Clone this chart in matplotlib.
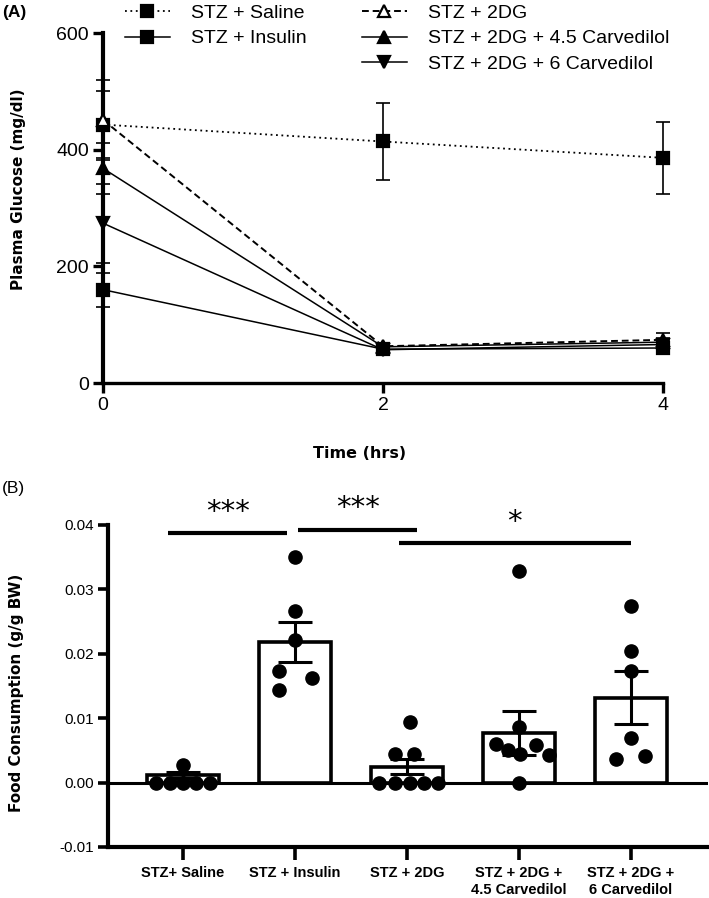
import matplotlib.pyplot as plt
import numpy as np

# ---- panel A: plasma glucose over time ----
hours = [0, 2, 4]
series_names = ["STZ + Saline", "STZ + Insulin", "STZ + 2DG",
                "STZ + 2DG + 4.5 Carvedilol", "STZ + 2DG + 6 Carvedilol"]
glucose_saline = [443, 414, 386]
glucose_insulin = [160, 58, 60]
glucose_2dg = [451, 63, 74]
glucose_carv45 = [368, 62, 70]
glucose_carv6 = [274, 57, 66]
err_saline = [58, 66, 62]
err_insulin = [29, 5, 6]
err_2dg = [69, 6, 12]
err_carv45 = [44, 6, 8]
err_carv6 = [68, 5, 8]

# ---- panel B: food consumption ----
groups = ["STZ+ Saline", "STZ + Insulin", "STZ + 2DG",
          "STZ + 2DG +\n4.5 Carvedilol", "STZ + 2DG +\n6 Carvedilol"]
food_mean = [0.0012, 0.0219, 0.0025, 0.0077, 0.0132]
food_sem = [0.0005, 0.0031, 0.0011, 0.0034, 0.0041]
food_saline = [0.0028, 0.0, 0.0, 0.0, 0.0, 0.0]
food_insulin = [0.0350, 0.0266, 0.0222, 0.0174, 0.0144, 0.0162]
food_2dg = [0.0094, 0.0045, 0.0045, 0.0, 0.0, 0.0, 0.0, 0.0]
food_carv45 = [0.0329, 0.0087, 0.0060, 0.0050, 0.0045, 0.0058, 0.0043, 0.0]
food_carv6 = [0.0275, 0.0204, 0.0173, 0.0070, 0.0037, 0.0042]
sig_labels = ["***", "***", "*"]
sig_starts = [-0.13, 1.03, 1.93]
sig_ends = [0.93, 2.09, 4.0]
sig_heights = [0.0387, 0.0393, 0.0372]

# horizontal scatter of the dots inside each bar
jitter = [
    [0.0, -0.24, -0.12, 0.0, 0.12, 0.24],
    [0.0, 0.0, 0.0, -0.14, -0.14, 0.15],
    [0.03, -0.11, 0.06, -0.25, -0.11, 0.03, 0.15, 0.28],
    [0.0, 0.0, -0.2, -0.1, 0.01, 0.15, 0.27, 0.0],
    [0.0, 0.0, 0.0, 0.0, -0.13, 0.13],
]

W, H = 709, 898
fig = plt.figure(figsize=(W / 100, H / 100), dpi=100)
num_font = ["Liberation Sans", "DejaVu Sans"]

# ================= panel A =================
axA = fig.add_axes([103 / W, 1 - 383 / H, 560 / W, 350 / H])
styles = [
    dict(ls=(0, (1, 2)), marker="s", mfc="black", lw=1.3),
    dict(ls="-", marker="s", mfc="black", lw=1.1),
    dict(ls=(0, (3.5, 2)), marker="^", mfc="white", lw=1.4),
    dict(ls="-", marker="^", mfc="black", lw=1.1),
    dict(ls="-", marker="v", mfc="black", lw=1.1),
]
values = [glucose_saline, glucose_insulin, glucose_2dg, glucose_carv45, glucose_carv6]
errors = [err_saline, err_insulin, err_2dg, err_carv45, err_carv6]
handles = []
for name, vals, err, st in zip(series_names, values, errors, styles):
    axA.errorbar(hours, vals, yerr=err, fmt="none", ecolor="black",
                 elinewidth=1.2, capsize=5, capthick=1.2, clip_on=False, zorder=3)
    h, = axA.plot(hours, vals, color="black", linestyle=st["ls"], lw=st["lw"],
                  marker=st["marker"], ms=8, mfc=st["mfc"], mec="black", mew=1.6,
                  clip_on=False, zorder=4, label=name)
    handles.append(h)

axA.set_xlim(0, 4)
axA.set_ylim(0, 600)
axA.set_xticks(hours)
axA.set_yticks([0, 200, 400, 600])
for s in ["top", "right"]:
    axA.spines[s].set_visible(False)
axA.spines["left"].set_linewidth(3)
axA.spines["bottom"].set_linewidth(2.4)
axA.tick_params(direction="out", length=7, width=2.4, labelsize=14, pad=3)
for lab in axA.get_xticklabels() + axA.get_yticklabels():
    lab.set_family(num_font)
axA.set_ylabel("Plasma Glucose (mg/dl)", fontsize=11, fontweight="bold")
axA.yaxis.set_label_coords(-0.138, 0.554)
axA.set_xlabel("Time (hrs)", fontsize=11.5, fontweight="bold")
axA.xaxis.set_label_coords((360 - 103) / 560, -0.18)

leg_kw = dict(frameon=False, handlelength=2.3, handletextpad=1.1,
              labelspacing=0.42, borderpad=0, borderaxespad=0, loc="upper left",
              prop={"family": num_font, "size": 14})
fig.legend(handles[:2], series_names[:2], bbox_to_anchor=(125 / W, 1 - 4 / H), **leg_kw)
fig.legend(handles[2:], series_names[2:], bbox_to_anchor=(362 / W, 1 - 4 / H), **leg_kw)

fig.text(2 / W, 1 - 13 / H, "(A)", fontsize=12.5, fontweight="bold",
         family=num_font, va="center", ha="left")

# ================= panel B =================
axB = fig.add_axes([108 / W, 1 - 847 / H, 600 / W, 322 / H])
x = np.arange(len(groups))
axB.bar(x, food_mean, width=0.64, color="white", edgecolor="black",
        linewidth=2.6, zorder=2)
axB.errorbar(x, food_mean, yerr=food_sem, fmt="none", ecolor="black",
             elinewidth=2.2, capsize=12, capthick=2.2, zorder=3)
points = [food_saline, food_insulin, food_2dg, food_carv45, food_carv6]
for i, (pts, jit) in enumerate(zip(points, jitter)):
    axB.plot(i + np.array(jit), pts, "o", color="black", ms=9.5, zorder=4,
             clip_on=False)
axB.axhline(0, color="black", lw=2.2, zorder=1)

for x0, x1, hgt, lab in zip(sig_starts, sig_ends, sig_heights, sig_labels):
    axB.plot([x0, x1], [hgt, hgt], color="black", lw=3, clip_on=False,
             solid_capstyle="butt")
    axB.text((x0 + x1) / 2, hgt + 0.0011, lab, ha="center", va="bottom",
             fontsize=21, family="DejaVu Sans", clip_on=False)

axB.set_xlim(-0.67, 4.69)
axB.set_ylim(-0.01, 0.04)
axB.set_yticks([-0.01, 0.0, 0.01, 0.02, 0.03, 0.04])
axB.set_yticklabels(["-0.01", "0.00", "0.01", "0.02", "0.03", "0.04"])
axB.set_xticks(x)
axB.set_xticklabels(groups, fontweight="bold", fontsize=10.5,
                    family=num_font, linespacing=1.2)
for s in ["top", "right"]:
    axB.spines[s].set_visible(False)
axB.spines["left"].set_linewidth(3)
axB.spines["bottom"].set_linewidth(3)
axB.tick_params(axis="y", direction="out", length=7, width=2.6, labelsize=11, pad=3)
axB.tick_params(axis="x", direction="out", length=9, width=2.6, pad=5)
for lab in axB.get_yticklabels():
    lab.set_family(num_font)
axB.set_ylabel("Food Consumption (g/g BW)", fontsize=11, fontweight="bold")
axB.yaxis.set_label_coords(-0.14, 0.48)

fig.text(2 / W, 1 - 489 / H, "(B)", fontsize=12.5, family=num_font,
         va="center", ha="left")

fig.savefig("out.png", dpi=100, facecolor="white")
